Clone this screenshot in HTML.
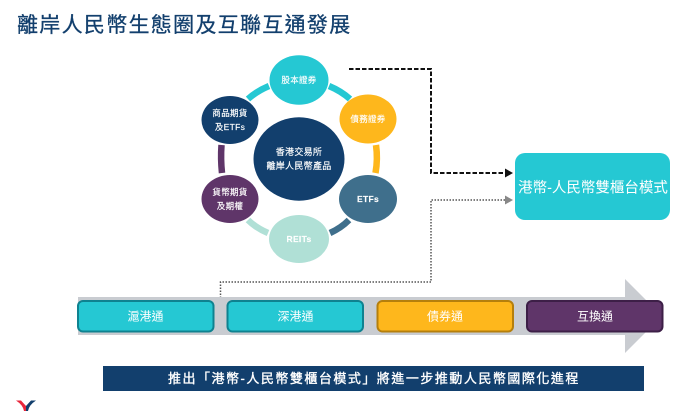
<!DOCTYPE html>
<html lang="zh-Hant">
<head>
<meta charset="utf-8">
<style>
html,body{margin:0;padding:0;background:#fff;width:700px;height:411px;overflow:hidden}
svg{display:block}
text{font-family:"Liberation Sans","Noto Sans CJK TC",sans-serif}
</style>
</head>
<body>
<svg width="700" height="411" viewBox="0 0 700 411" xmlns="http://www.w3.org/2000/svg">
<rect width="700" height="411" fill="#fff"/>
<text x="17" y="32" font-size="21" letter-spacing="1.300" fill="#123f6d" stroke="#123f6d" stroke-width="0.300">離岸人民幣生態圈及互聯互通發展</text>

<!-- ring arcs -->
<g fill="none" stroke-width="6.500">
<path d="M329 86 Q341 91 350 99" stroke="#25c8d3"/>
<path d="M269 86 Q257 91 248 99" stroke="#25c8d3"/>
<path d="M376 145 Q378 159 375.500 173" stroke="#feb71c"/>
<path d="M221.500 145 Q220.500 159 222 173" stroke="#5f3569"/>
<path d="M349 220 Q341 228 330 233" stroke="#3f6f8c"/>
<path d="M248 220 Q256 228 268 233" stroke="#b0e0d6"/>
</g>

<!-- circles -->
<ellipse cx="299" cy="80" rx="29.500" ry="24.700" fill="#25c8d3"/>
<ellipse cx="368" cy="119" rx="28.500" ry="24.500" fill="#feb71c"/>
<ellipse cx="368" cy="199" rx="29" ry="24" fill="#3f6f8c"/>
<ellipse cx="299" cy="239" rx="30" ry="24" fill="#b0e0d6"/>
<ellipse cx="230" cy="199" rx="28.500" ry="24" fill="#5f3569"/>
<ellipse cx="230" cy="120" rx="28.500" ry="24" fill="#123f6d"/>
<ellipse cx="299" cy="159" rx="45.500" ry="41.700" fill="#123f6d"/>

<g fill="#fff" font-size="8.500" text-anchor="middle" letter-spacing="0.300" stroke="#fff" stroke-width="0.150">
<text x="299" y="83">股本證券</text>
<text x="368" y="122">債務證券</text>
<text x="368" y="202" font-weight="bold">ETFs</text>
<text x="299" y="242" font-weight="bold">REITs</text>
<text x="230" y="195">貨幣期貨</text>
<text x="230" y="209">及期權</text>
<text x="230" y="116">商品期貨</text>
<text x="230" y="130">及ETFs</text>
<text x="299" y="155" font-size="9">香港交易所</text>
<text x="299" y="169" font-size="9">離岸人民幣產品</text>
</g>

<!-- connectors -->
<path d="M349 69H431V173H506" fill="none" stroke="#111" stroke-width="2" stroke-dasharray="4.500 2"/>
<path d="M505 168.500L513 173L505 177.500Z" fill="#111"/>
<path d="M220.500 298V282H431V200H506" fill="none" stroke="#555" stroke-width="1.500" stroke-dasharray="1.500 1.500"/>
<path d="M505 195.500L513 200L505 204.500Z" fill="#888"/>

<!-- target box -->
<rect x="515" y="153" width="155" height="67" rx="10" fill="#25c8d3"/>
<text x="593" y="192.500" font-size="14.500" fill="#fff" text-anchor="middle">港幣-人民幣雙櫃台模式</text>

<!-- timeline arrow -->
<path d="M78 297H625V279L662 316L625 353V335H78Z" fill="#c9ccd1"/>
<g stroke-width="2">
<rect x="78" y="301" width="135.500" height="30.500" rx="5" fill="#25c8d3" stroke="#0f8290"/>
<rect x="227.500" y="301" width="135.500" height="30.500" rx="5" fill="#25c8d3" stroke="#0f8290"/>
<rect x="377.500" y="301" width="135.500" height="30.500" rx="5" fill="#feb71c" stroke="#b57f0c"/>
<rect x="527" y="301" width="135.500" height="30.500" rx="5" fill="#5f3569" stroke="#3d1f47"/>
</g>
<g fill="#fff" font-size="12" text-anchor="middle">
<text x="145.500" y="320.500">滬港通</text>
<text x="295.500" y="320.500">深港通</text>
<text x="445" y="320.500">債券通</text>
<text x="595" y="320.500">互換通</text>
</g>

<!-- bottom bar -->
<rect x="103" y="366" width="541" height="25" fill="#123f6d"/>
<text x="168" y="383" font-size="13" letter-spacing="1.500" fill="#fff" stroke="#fff" stroke-width="0.350">推出「港幣-人民幣雙櫃台模式」將進一步推動人民幣國際化進程</text>

<!-- logo -->
<path d="M16 400.500H21L26 406V411H24Q23 405 16 400.500Z" fill="#e8273c"/>
<path d="M36 400.500H31L26 406V411H28Q29 405 36 400.500Z" fill="#123f6d"/>
</svg>
</body>
</html>
